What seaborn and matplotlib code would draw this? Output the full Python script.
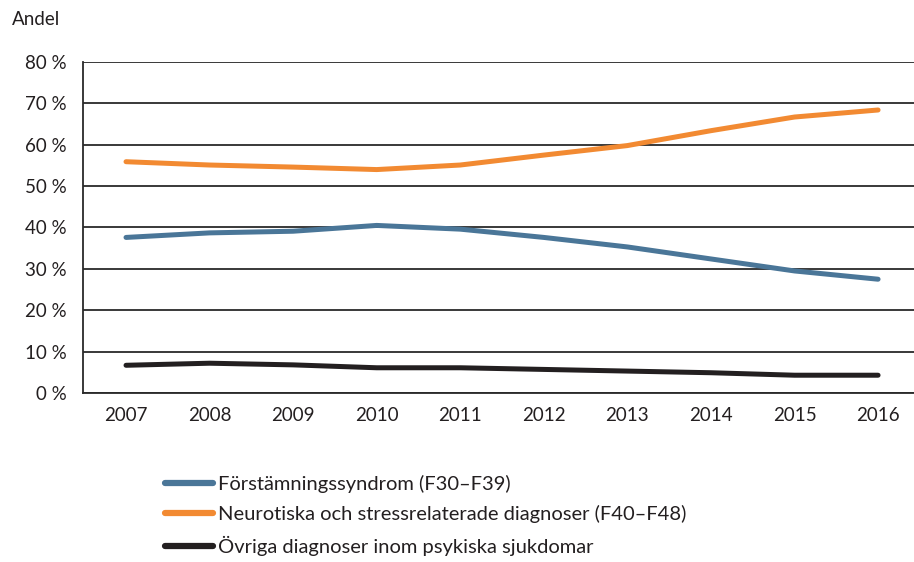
import matplotlib
matplotlib.use("Agg")
import matplotlib.pyplot as plt
import seaborn as sns
import pandas as pd

years = [2007, 2008, 2009, 2010, 2011, 2012, 2013, 2014, 2015, 2016]
forstamning = [37.6, 38.7, 39.1, 40.5, 39.6, 37.6, 35.3, 32.4, 29.5, 27.5]
neurotiska = [55.9, 55.1, 54.6, 54.0, 55.1, 57.5, 59.8, 63.4, 66.7, 68.4]
ovriga = [6.7, 7.2, 6.8, 6.1, 6.1, 5.7, 5.3, 4.9, 4.3, 4.3]

labels = [
    "Förstämningssyndrom (F30–F39)",
    "Neurotiska och stressrelaterade diagnoser (F40–F48)",
    "Övriga diagnoser inom psykiska sjukdomar",
]
colors = ["#4a7698", "#f28a32", "#231f20"]

df = pd.concat([
    pd.DataFrame({"år": years, "andel": vals, "grupp": lab})
    for vals, lab in zip([forstamning, neurotiska, ovriga], labels)
])

sns.set_style("white")
plt.rcParams["font.family"] = ["Lato", "DejaVu Sans"]

fig = plt.figure(figsize=(9.14, 5.62), dpi=100)
ax = fig.add_axes([0.0908, 0.3007, 0.9092, 0.589])

sns.lineplot(data=df, x="år", y="andel", hue="grupp", palette=colors,
             hue_order=labels, linewidth=3.6, ax=ax, legend=False)

ax.set_xlim(2006.485, 2016.43)
ax.set_ylim(0, 80)
ax.set_yticks(range(0, 81, 10))
ax.set_yticklabels([f"{v} %" for v in range(0, 81, 10)], fontsize=13.5, color="#231f20")
ax.set_xticks(years)
ax.set_xticklabels([str(y) for y in years], fontsize=13.5, color="#231f20")
ax.set_xlabel("")
ax.set_ylabel("")
ax.yaxis.grid(True, color="#2a2a2a", linewidth=1.3)
ax.set_axisbelow(True)
for s in ["top", "right"]:
    ax.spines[s].set_visible(False)
ax.spines["left"].set_color("#2a2a2a")
ax.spines["left"].set_linewidth(1.3)
ax.spines["bottom"].set_color("#2a2a2a")
ax.spines["bottom"].set_linewidth(1.3)
ax.tick_params(axis="y", direction="out", length=5, width=1.3, color="#2a2a2a", pad=7)
ax.tick_params(axis="x", length=0, pad=10)

fig.text(0.013, 0.965, "Andel", fontsize=13.5, color="#231f20", va="center")

handles = [plt.Line2D([], [], color=c, linewidth=4.5) for c in colors]
fig.legend(handles, labels, loc="upper left", bbox_to_anchor=(0.172, 0.17),
           frameon=False, fontsize=14.5, handlelength=2.35, handletextpad=0.25,
           labelspacing=0.62, borderaxespad=0, labelcolor="#231f20")

fig.savefig("out.png", dpi=100)
